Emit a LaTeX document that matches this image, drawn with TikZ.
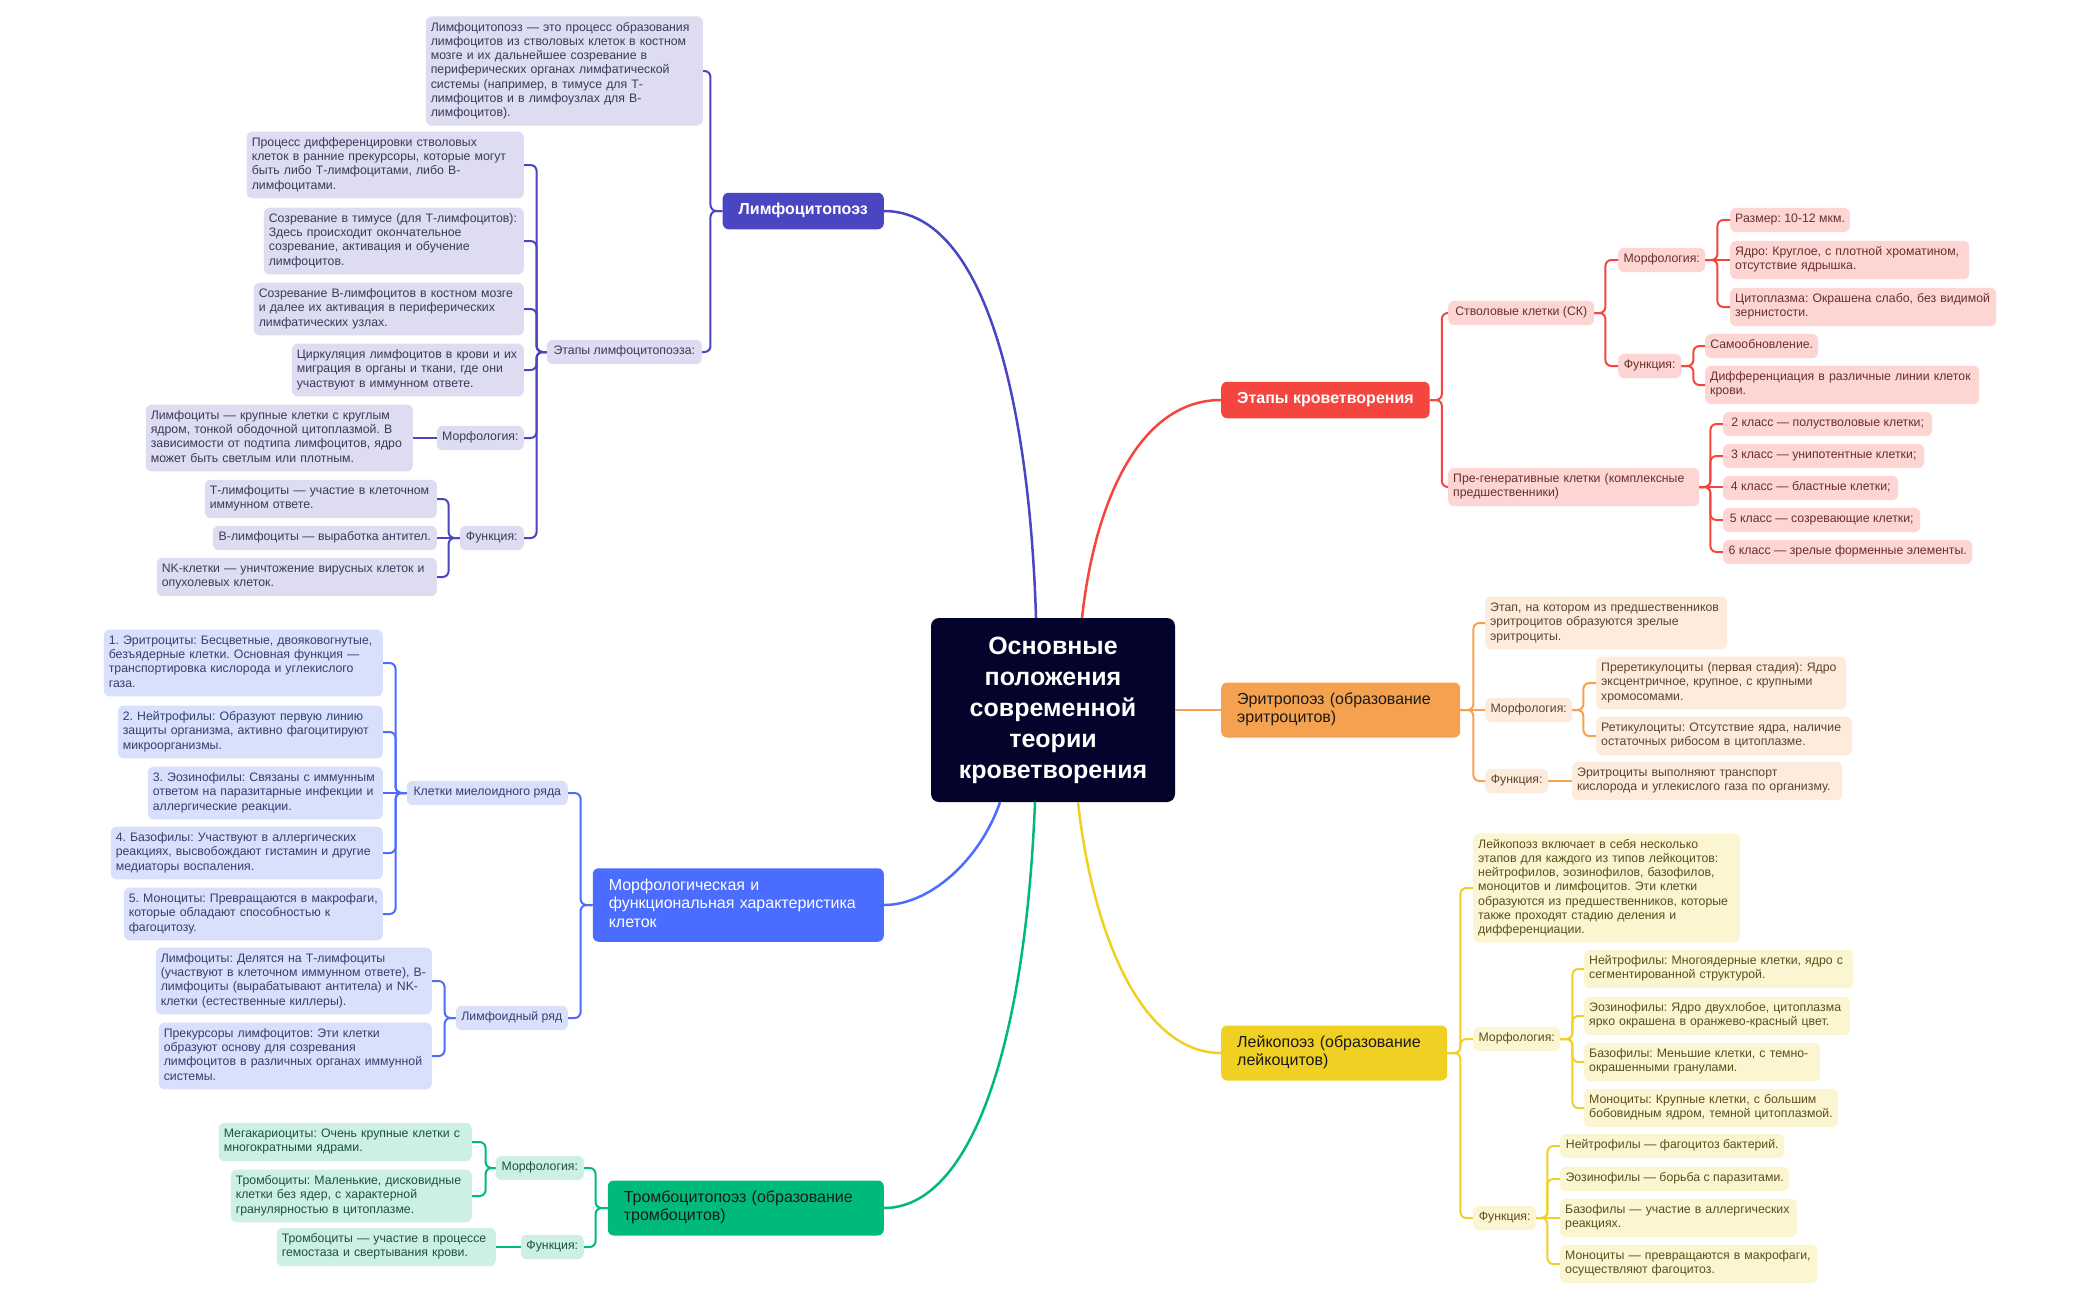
\documentclass[tikz,border=0pt]{standalone}
\usepackage{fontspec}
\setmainfont{Liberation Sans}
\hyphenpenalty=10000 \exhyphenpenalty=10000
\frenchspacing
\definecolor{lymC}{HTML}{4A45C0}\definecolor{lymF}{HTML}{DDDCF1}\definecolor{lymT}{HTML}{3B3A5C}
\definecolor{redC}{HTML}{F4463E}\definecolor{redF}{HTML}{FDD6D4}\definecolor{redT}{HTML}{6A2F2C}
\definecolor{oraC}{HTML}{F4A24F}\definecolor{oraF}{HTML}{FDEBDC}\definecolor{oraT}{HTML}{5E4330}
\definecolor{yelC}{HTML}{F0D022}\definecolor{yelF}{HTML}{FCF5D1}\definecolor{yelT}{HTML}{5A4F1C}
\definecolor{bluC}{HTML}{4A6CFF}\definecolor{bluF}{HTML}{D9E0FC}\definecolor{bluT}{HTML}{34406E}
\definecolor{grnC}{HTML}{00BA7A}\definecolor{grnF}{HTML}{CCF1E3}\definecolor{grnT}{HTML}{1E5140}
\definecolor{ctrC}{HTML}{03032B}\definecolor{darkT}{HTML}{1C1A18}
\newcommand\subfnt{\fontsize{12.3}{14.2}\selectfont\frenchspacing}
\newcommand\mainfnt{\fontsize{16}{18.5}\selectfont\frenchspacing}
\newcommand\ctrfnt{\fontsize{25}{31}\selectfont\bfseries}
\tikzset{
  sub/.style={rounded corners=6pt, inner xsep=5pt, inner ysep=5pt, align=left, font=\subfnt,
    execute at begin node=\strut, execute at end node=\strut},
  ls/.style={sub, fill=lymF, text=lymT},
  rs/.style={sub, fill=redF, text=redT},
  os/.style={sub, fill=oraF, text=oraT},
  ys/.style={sub, fill=yelF, text=yelT},
  bs/.style={sub, fill=bluF, text=bluT},
  gs/.style={sub, fill=grnF, text=grnT},
  mainnode/.style={rounded corners=6pt, inner xsep=16pt, inner ysep=9pt, align=left, font=\mainfnt,
    execute at begin node=\strut, execute at end node=\strut},
  lk/.style={line width=2pt, rounded corners=6pt},
  mk/.style={line width=2.5pt},
}
\begin{document}
\begin{tikzpicture}[x=1pt,y=-1pt]
\fill[white] (0,0) rectangle (2100,1299);
\useasboundingbox (0,0) rectangle (2100,1299);

% centre
\node[fill=ctrC, text=white, rounded corners=8pt, minimum width=244pt, minimum height=184pt, align=center, font=\ctrfnt] (ctr) at (1053,710)
 {Основные\\ положения\\ современной\\ теории\\ кроветворения};

% main branches
\node[mainnode, fill=lymC, text=white, font=\mainfnt\bfseries, minimum width=157pt, align=center, anchor=east] (lym) at (884,211) {Лимфоцитопоэз};
\node[mainnode, fill=redC, text=white, font=\mainfnt\bfseries, minimum width=202pt, align=center, anchor=west] (redm) at (1221,400) {Этапы кроветворения};
\node[mainnode, fill=oraC, text=darkT, text width=207pt, anchor=west] (oram) at (1221,710) {Эритропоэз (образование\\ эритроцитов)};
\node[mainnode, fill=yelC, text=darkT, text width=194pt, anchor=west] (yelm) at (1221,1053) {Лейкопоэз (образование\\ лейкоцитов)};
\node[mainnode, fill=bluC, text=white, text width=259pt, anchor=east] (blum) at (884,905) {Морфологическая и\\ функциональная характеристика\\ клеток};
\node[mainnode, fill=grnC, text=darkT, text width=244pt, anchor=east] (grnm) at (884,1208) {Тромбоцитопоэз (образование\\ тромбоцитов)};

% lymphocytopoiesis subtree
\node[ls, text width=267pt, anchor=east] (l1) at (703,71) {Лимфоцитопоэз — это процесс образования\\ лимфоцитов из стволовых клеток в костном\\ мозге и их дальнейшее созревание в\\ периферических органах лимфатической\\ системы (например, в тимусе для Т-\\ лимфоцитов и в лимфоузлах для В-\\ лимфоцитов).};
\node[ls, minimum width=155pt, anchor=east] (et) at (702,352) {Этапы лимфоцитопоэза:};
\node[ls, text width=267pt, anchor=east] (e1) at (524,165) {Процесс дифференцировки стволовых\\ клеток в ранние прекурсоры, которые могут\\ быть либо Т-лимфоцитами, либо В-\\ лимфоцитами.};
\node[ls, text width=250pt, anchor=east] (e2) at (524,241) {Созревание в тимусе (для Т-лимфоцитов):\\ Здесь происходит окончательное\\ созревание, активация и обучение\\ лимфоцитов.};
\node[ls, text width=260pt, anchor=east] (e3) at (524,309) {Созревание В-лимфоцитов в костном мозге\\ и далее их активация в периферических\\ лимфатических узлах.};
\node[ls, text width=222pt, anchor=east] (e4) at (524,370) {Циркуляция лимфоцитов в крови и их\\ миграция в органы и ткани, где они\\ участвуют в иммунном ответе.};
\node[ls, minimum width=87pt, anchor=east] (lm) at (524,438) {Морфология:};
\node[ls, text width=257pt, anchor=east] (lmc) at (413,438) {Лимфоциты — крупные клетки с круглым\\ ядром, тонкой ободочной цитоплазмой. В\\ зависимости от подтипа лимфоцитов, ядро\\ может быть светлым или плотным.};
\node[ls, minimum width=64pt, anchor=east] (lf) at (524,538) {Функция:};
\node[ls, text width=222pt, anchor=east] (f1) at (437,499) {Т-лимфоциты — участие в клеточном\\ иммунном ответе.};
\node[ls, minimum width=224pt, anchor=east] (f2) at (437,538) {В-лимфоциты — выработка антител.};
\node[ls, text width=270pt, anchor=east] (f3) at (437,577) {NK-клетки — уничтожение вирусных клеток и\\ опухолевых клеток.};

% red subtree
\node[rs, minimum width=146pt, anchor=west] (sk) at (1448,313) {Стволовые клетки (СК)};
\node[rs, text width=241pt, anchor=west] (pg) at (1448,487) {Пре-генеративные клетки (комплексные\\ предшественники)};
\node[rs, minimum width=87pt, anchor=west] (rm) at (1618,260) {Морфология:};
\node[rs, minimum width=63pt, anchor=west] (rf) at (1618,366) {Функция:};
\node[rs, minimum width=115pt, anchor=west] (r1) at (1730,220) {Размер: 10-12 мкм.};
\node[rs, text width=229pt, anchor=west] (r2) at (1730,260) {Ядро: Круглое, с плотной хроматином,\\ отсутствие ядрышка.};
\node[rs, text width=256pt, anchor=west] (r3) at (1730,307) {Цитоплазма: Окрашена слабо, без видимой\\ зернистости.};
\node[rs, minimum width=113pt, anchor=west] (r4) at (1705,346) {Самообновление.};
\node[rs, text width=264pt, anchor=west] (r5) at (1705,385) {Дифференциация в различные линии клеток\\ крови.};
\node[rs, minimum width=209pt, anchor=west] (c2) at (1723,424) {2 класс — полустволовые клетки;};
\node[rs, minimum width=201pt, anchor=west] (c3) at (1723,456) {3 класс — унипотентные клетки;};
\node[rs, minimum width=175pt, anchor=west] (c4) at (1723,488) {4 класс — бластные клетки;};
\node[rs, minimum width=197pt, anchor=west] (c5) at (1723,520) {5 класс — созревающие клетки;};
\node[rs, minimum width=249pt, anchor=west] (c6) at (1723,552) {6 класс — зрелые форменные элементы.};

% orange subtree
\node[os, text width=232pt, anchor=west] (o1) at (1485,623) {Этап, на котором из предшественников\\ эритроцитов образуются зрелые\\ эритроциты.};
\node[os, minimum width=87pt, anchor=west] (om) at (1485,710) {Морфология:};
\node[os, minimum width=63pt, anchor=west] (of) at (1485,781) {Функция:};
\node[os, text width=240pt, anchor=west] (o2) at (1596,683) {Преретикулоциты (первая стадия): Ядро\\ эксцентричное, крупное, с крупными\\ хромосомами.};
\node[os, text width=246pt, anchor=west] (o3) at (1596,736) {Ретикулоциты: Отсутствие ядра, наличие\\ остаточных рибосом в цитоплазме.};
\node[os, text width=260pt, anchor=west] (o4) at (1572,781) {Эритроциты выполняют транспорт\\ кислорода и углекислого газа по организму.};

% yellow subtree
\node[ys, text width=257pt, anchor=west] (y1) at (1473,888) {Лейкопоэз включает в себя несколько\\ этапов для каждого из типов лейкоцитов:\\ нейтрофилов, эозинофилов, базофилов,\\ моноцитов и лимфоцитов. Эти клетки\\ образуются из предшественников, которые\\ также проходят стадию деления и\\ дифференциации.};
\node[ys, minimum width=87pt, anchor=west] (ym) at (1473,1039) {Морфология:};
\node[ys, minimum width=63pt, anchor=west] (yf) at (1473,1218) {Функция:};
\node[ys, text width=259pt, anchor=west] (y2) at (1584,969) {Нейтрофилы: Многоядерные клетки, ядро с\\ сегментированной структурой.};
\node[ys, text width=256pt, anchor=west] (y3) at (1584,1016) {Эозинофилы: Ядро двухлобое, цитоплазма\\ ярко окрашена в оранжево-красный цвет.};
\node[ys, text width=226pt, anchor=west] (y4) at (1584,1062) {Базофилы: Меньшие клетки, с темно-\\ окрашенными гранулами.};
\node[ys, text width=244pt, anchor=west] (y5) at (1584,1108) {Моноциты: Крупные клетки, с большим\\ бобовидным ядром, темной цитоплазмой.};
\node[ys, minimum width=224pt, anchor=west] (y6) at (1560,1146) {Нейтрофилы — фагоцитоз бактерий.};
\node[ys, minimum width=229pt, anchor=west] (y7) at (1560,1179) {Эозинофилы — борьба с паразитами.};
\node[ys, text width=227pt, anchor=west] (y8) at (1560,1218) {Базофилы — участие в аллергических\\ реакциях.};
\node[ys, text width=247pt, anchor=west] (y9) at (1560,1264) {Моноциты — превращаются в макрофаги,\\ осуществляют фагоцитоз.};

% blue subtree
\node[bs, minimum width=161pt, anchor=east] (bm) at (568,793) {Клетки миелоидного ряда};
\node[bs, minimum width=112pt, anchor=east] (bl) at (568,1018) {Лимфоидный ряд};
\node[bs, text width=269pt, anchor=east] (b1) at (383,663) {1. Эритроциты: Бесцветные, двояковогнутые,\\ безъядерные клетки. Основная функция —\\ транспортировка кислорода и углекислого\\ газа.};
\node[bs, text width=255pt, anchor=east] (b2) at (383,732) {2. Нейтрофилы: Образуют первую линию\\ защиты организма, активно фагоцитируют\\ микроорганизмы.};
\node[bs, text width=225pt, anchor=east] (b3) at (383,793) {3. Эозинофилы: Связаны с иммунным\\ ответом на паразитарные инфекции и\\ аллергические реакции.};
\node[bs, text width=262pt, anchor=east] (b4) at (383,853) {4. Базофилы: Участвуют в аллергических\\ реакциях, высвобождают гистамин и другие\\ медиаторы воспаления.};
\node[bs, text width=249pt, anchor=east] (b5) at (383,914) {5. Моноциты: Превращаются в макрофаги,\\ которые обладают способностью к\\ фагоцитозу.};
\node[bs, text width=266pt, anchor=east] (b6) at (432,981) {Лимфоциты: Делятся на Т-лимфоциты\\ (участвуют в клеточном иммунном ответе), В-\\ лимфоциты (вырабатывают антитела) и NK-\\ клетки (естественные киллеры).};
\node[bs, text width=263pt, anchor=east] (b7) at (432,1056) {Прекурсоры лимфоцитов: Эти клетки\\ образуют основу для созревания\\ лимфоцитов в различных органах иммунной\\ системы.};

% green subtree
\node[gs, minimum width=88pt, anchor=east] (gm) at (584,1168) {Морфология:};
\node[gs, minimum width=63pt, anchor=east] (gf) at (584,1247) {Функция:};
\node[gs, text width=243pt, anchor=east] (g1) at (472,1142) {Мегакариоциты: Очень крупные клетки с\\ многократными ядрами.};
\node[gs, text width=231pt, anchor=east] (g2) at (472,1196) {Тромбоциты: Маленькие, дисковидные\\ клетки без ядер, с характерной\\ гранулярностью в цитоплазме.};
\node[gs, text width=209pt, anchor=east] (g3) at (496,1247) {Тромбоциты — участие в процессе\\ гемостаза и свертывания крови.};

% main curves
\draw[mk,lymC] (lym.east) .. controls (990,211) and (1030,420) .. ([xshift=-17pt]ctr.north);
\draw[mk,redC] ([xshift=29pt]ctr.north) .. controls (1095,500) and (1140,400) .. (redm.west);
\draw[mk,oraC] (ctr.east) -- (oram.west);
\draw[mk,yelC] ([xshift=25pt]ctr.south) .. controls (1092,930) and (1140,1053) .. (yelm.west);
\draw[mk,grnC] ([xshift=-18pt]ctr.south) .. controls (1025,1050) and (970,1208) .. (grnm.east);
\draw[mk,bluC] ([xshift=-53pt]ctr.south) .. controls (980,860) and (930,905) .. (blum.east);

% lymph connectors
\foreach \c in {l1,et} \draw[lk,lymC] (lym.west) -- ++(-12,0) |- (\c.east);
\foreach \c in {e1,e2,e3,e4,lm,lf} \draw[lk,lymC] (et.west) -- ++(-10,0) |- (\c.east);
\draw[lk,lymC] (lm.west) -- (lm.west -| lmc.east);
\foreach \c in {f1,f3} \draw[lk,lymC] (lf.west) -- ++(-11,0) |- (\c.east);
\draw[lk,lymC] (lf.west) -- (lf.west -| f2.east);

% red connectors
\foreach \c in {sk,pg} \draw[lk,redC] (redm.east) -- ++(12,0) |- (\c.west);
\foreach \c in {rm,rf} \draw[lk,redC] (sk.east) -- ++(11,0) |- (\c.west);
\foreach \c in {r1,r3} \draw[lk,redC] (rm.east) -- ++(12,0) |- (\c.west);
\draw[lk,redC] (rm.east) -- (rm.east -| r2.west);
\foreach \c in {r4,r5} \draw[lk,redC] (rf.east) -- ++(12,0) |- (\c.west);
\foreach \c in {c2,c3,c5,c6} \draw[lk,redC] (pg.east) -- ++(11,0) |- (\c.west);
\draw[lk,redC] (pg.east) -- (pg.east -| c4.west);

% orange connectors
\foreach \c in {o1,of} \draw[lk,oraC] (oram.east) -- ++(13,0) |- (\c.west);
\draw[lk,oraC] (oram.east) -- (oram.east -| om.west);
\foreach \c in {o2,o3} \draw[lk,oraC] (om.east) -- ++(11,0) |- (\c.west);
\draw[lk,oraC] (of.east) -- (of.east -| o4.west);

% yellow connectors
\foreach \c in {y1,ym,yf} \draw[lk,yelC] (yelm.east) -- ++(13,0) |- (\c.west);
\foreach \c in {y2,y3,y4,y5} \draw[lk,yelC] (ym.east) -- ++(12,0) |- (\c.west);
\foreach \c in {y6,y7,y9} \draw[lk,yelC] (yf.east) -- ++(11,0) |- (\c.west);
\draw[lk,yelC] (yf.east) -- (yf.east -| y8.west);

% blue connectors
\foreach \c in {bm,bl} \draw[lk,bluC] (blum.west) -- ++(-12,0) |- (\c.east);
\foreach \c in {b1,b2,b4,b5} \draw[lk,bluC] (bm.west) -- ++(-11,0) |- (\c.east);
\draw[lk,bluC] (bm.west) -- (bm.west -| b3.east);
\foreach \c in {b6,b7} \draw[lk,bluC] (bl.west) -- ++(-11,0) |- (\c.east);

% green connectors
\foreach \c in {gm,gf} \draw[lk,grnC] (grnm.west) -- ++(-12,0) |- (\c.east);
\foreach \c in {g1,g2} \draw[lk,grnC] (gm.west) -- ++(-10,0) |- (\c.east);
\draw[lk,grnC] (gf.west) -- (gf.west -| g3.east);
\end{tikzpicture}
\end{document}
